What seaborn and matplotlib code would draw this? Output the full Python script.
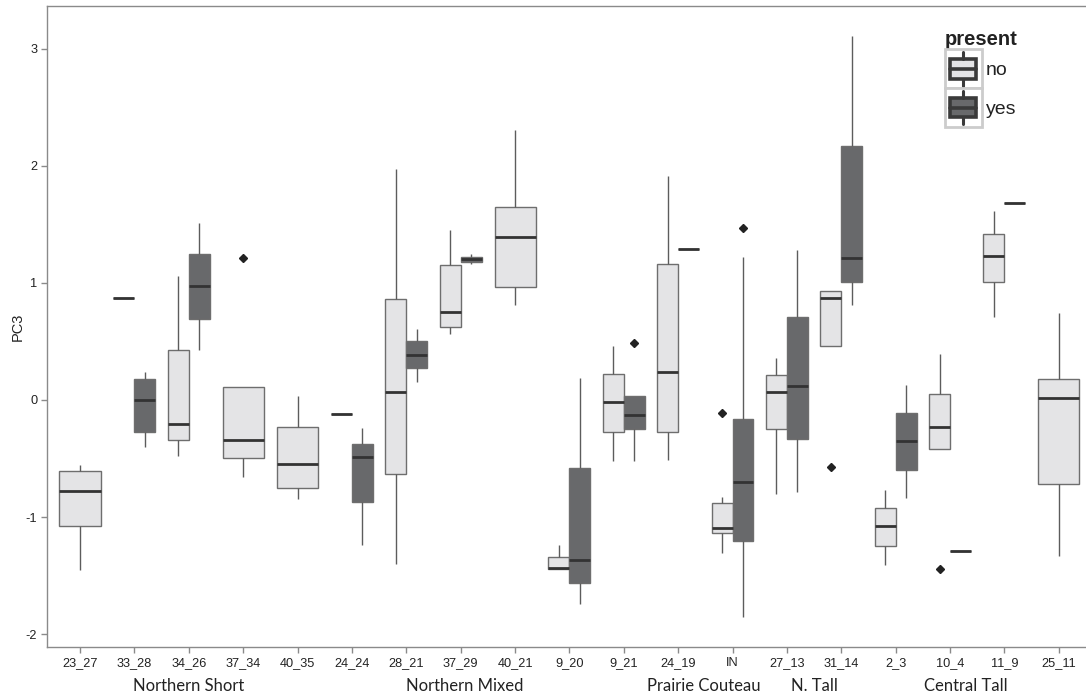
import numpy as np
import pandas as pd
import matplotlib
matplotlib.use("Agg")
import matplotlib.pyplot as plt
from matplotlib.patches import Rectangle, Patch
from matplotlib.lines import Line2D
from matplotlib.legend_handler import HandlerBase
from matplotlib.transforms import blended_transform_factory
import seaborn as sns

# Site order along the x axis
sites = ['23_27', '33_28', '34_26', '37_34', '40_35', '24_24', '28_21', '37_29',
         '40_21', '9_20', '9_21', '24_19', 'IN', '27_13', '31_14', '2_3', '10_4',
         '11_9', '25_11']

# PC3 scores per site where the species is absent
no_obs = {
    '23_27': [-1.45, -1.08, -0.78, -0.61, -0.555],
    '33_28': [0.87],
    '34_26': [-0.475, -0.34, -0.205, 0.43, 1.06],
    '37_34': [-0.66, -0.55, -0.495, -0.41, -0.34, -0.10, 0.115, 0.115, 1.215],
    '40_35': [-0.85, -0.755, -0.55, -0.235, 0.03],
    '24_24': [-0.12],
    '28_21': [-1.40, -0.635, 0.065, 0.86, 1.97],
    '37_29': [0.565, 0.62, 0.75, 1.15, 1.45],
    '40_21': [0.81, 0.965, 1.39, 1.65, 2.31],
    '9_20': [-1.44, -1.44, -1.435, -1.34, -1.24],
    '9_21': [-0.52, -0.275, -0.02, 0.22, 0.46],
    '24_19': [-0.51, -0.27, 0.24, 1.16, 1.91],
    'IN': [-1.31, -1.20, -1.135, -1.11, -1.09, -0.95, -0.88, -0.83, -0.11],
    '27_13': [-0.805, -0.245, 0.065, 0.21, 0.355],
    '31_14': [-0.57, 0.465, 0.465, 0.60, 0.875, 0.90, 0.93, 0.93, 0.93],
    '2_3': [-1.41, -1.245, -1.08, -0.925, -0.77],
    '10_4': [-1.44, -0.42, -0.42, -0.30, -0.235, -0.10, 0.05, 0.20, 0.39],
    '11_9': [0.705, 1.005, 1.23, 1.415, 1.615],
    '25_11': [-1.33, -0.72, 0.015, 0.175, 0.745],
}

# PC3 scores per site where the species is present
yes_obs = {
    '33_28': [-0.405, -0.275, 0.0, 0.18, 0.24],
    '34_26': [0.425, 0.69, 0.975, 1.245, 1.51],
    '24_24': [-1.24, -0.875, -0.49, -0.375, -0.24],
    '28_21': [0.15, 0.27, 0.385, 0.50, 0.61],
    '37_29': [1.16, 1.175, 1.205, 1.225, 1.245],
    '9_20': [-1.74, -1.565, -1.37, -0.58, 0.19],
    '9_21': [-0.52, -0.40, -0.25, -0.20, -0.13, 0.0, 0.035, 0.035, 0.49],
    '24_19': [1.29],
    'IN': [-1.855, -1.50, -1.205, -0.90, -0.70, -0.40, -0.165, 1.225, 1.47],
    '27_13': [-0.785, -0.335, 0.12, 0.71, 1.285],
    '31_14': [0.81, 1.005, 1.215, 2.165, 3.11],
    '2_3': [-0.835, -0.60, -0.35, -0.115, 0.125],
    '10_4': [-1.29],
    '11_9': [1.685],
}

# Region names printed beneath the site labels, with the site position they sit under
regions = ['Northern Short', 'Northern Mixed', 'Prairie Couteau', 'N. Tall', 'Central Tall']
region_pos = [2.0, 7.08, 11.47, 13.51, 16.29]

present_levels = ['no', 'yes']
palette = {'no': '#e4e4e6', 'yes': '#68696b'}

rows = []
for level, obs in (('no', no_obs), ('yes', yes_obs)):
    for site, vals in obs.items():
        for v in vals:
            rows.append({'site': site, 'present': level, 'PC3': v})
df = pd.DataFrame(rows)

# Sites with both levels get dodged boxes; single-level sites get one full-width box
levels_per_site = df.groupby('site')['present'].nunique()
paired = df[df['site'].map(levels_per_site) == 2]
single = df[df['site'].map(levels_per_site) == 1]

sns.set_style('white')
plt.rcParams['font.family'] = ['Liberation Sans', 'DejaVu Sans']
plt.rcParams['axes.unicode_minus'] = False

fig = plt.figure(figsize=(10.86, 7.0), dpi=100)
ax = fig.add_axes([47 / 1086, 53 / 700, 1 - 47 / 1086, 641 / 700])

common = dict(
    x='site', y='PC3', hue='present', order=sites, hue_order=present_levels,
    palette=palette, saturation=1, showcaps=False, legend=False, ax=ax,
    linecolor='#6e6e6e', linewidth=1.0,
    medianprops=dict(color='#333333', linewidth=2.0),
    whiskerprops=dict(color='#5c5c5c', linewidth=1.0),
    flierprops=dict(marker='D', markersize=3.6, markerfacecolor='#222222',
                    markeredgecolor='#222222'),
)
sns.boxplot(data=paired, dodge=True, width=0.77, gap=0, **common)
sns.boxplot(data=single, dodge=False, width=0.755, **common)

ax.set_xlim(-0.607, 18.5)
ax.set_ylim(-2.11, 3.365)
ax.set_yticks([-2, -1, 0, 1, 2, 3])
ax.set_xlabel('')
ax.set_ylabel('PC3', fontsize=10.5, color='#222222', labelpad=1)

for side in ('top', 'left', 'bottom'):
    ax.spines[side].set_color('#8a8a8a')
    ax.spines[side].set_linewidth(1.0)
ax.spines['right'].set_visible(False)
ax.tick_params(axis='both', which='major', length=4, width=1, color='#8a8a8a',
               labelsize=9.2, labelcolor='#222222', pad=3, direction='out',
               bottom=True, left=True)

trans = blended_transform_factory(ax.transData, ax.transAxes)
for name, pos in zip(regions, region_pos):
    ax.text(pos, -0.061, name, transform=trans, ha='center', va='center',
            fontsize=12, family=['Lato', 'DejaVu Sans'], color='#222222')


class BoxKeyHandler(HandlerBase):
    """Draws a small box-and-whisker glyph inside a framed legend key."""

    def create_artists(self, legend, orig_handle, xdescent, ydescent, width,
                       height, fontsize, trans):
        x0, y0 = -xdescent, -ydescent
        fc = orig_handle.get_facecolor()
        frame = Rectangle((x0, y0), width, height, facecolor='white',
                          edgecolor='#cccccc', lw=2.0, transform=trans)
        cx = x0 + width / 2
        bw, bh = width * 0.72, height * 0.5
        by = y0 + (height - bh) / 2
        box = Rectangle((cx - bw / 2, by), bw, bh, facecolor=fc,
                        edgecolor='#3a3a3a', lw=2.6, transform=trans)
        med = Line2D([cx - bw / 2, cx + bw / 2], [y0 + height / 2] * 2,
                     color='#3a3a3a', lw=2.6, transform=trans)
        w_top = Line2D([cx, cx], [by + bh, y0 + height * 0.93],
                       color='#3a3a3a', lw=2.2, transform=trans)
        w_bot = Line2D([cx, cx], [y0 + height * 0.07, by],
                       color='#3a3a3a', lw=2.2, transform=trans)
        return [frame, box, med, w_top, w_bot]


handles = [Patch(facecolor=palette[l]) for l in present_levels]
leg = ax.legend(handles, present_levels, title='present', loc='upper left',
                bbox_to_anchor=(0.864, 0.962), frameon=False, fontsize=14,
                title_fontsize=14.5, handler_map={Patch: BoxKeyHandler()},
                handlelength=1.9, handleheight=2.7, labelspacing=0.0,
                handletextpad=0.2, borderpad=0.0, borderaxespad=0.0)
leg.get_title().set_fontweight('bold')
leg.get_title().set_color('#222222')
leg._legend_box.align = 'left'
for t in leg.get_texts():
    t.set_color('#222222')

fig.savefig('out.png', dpi=100)
